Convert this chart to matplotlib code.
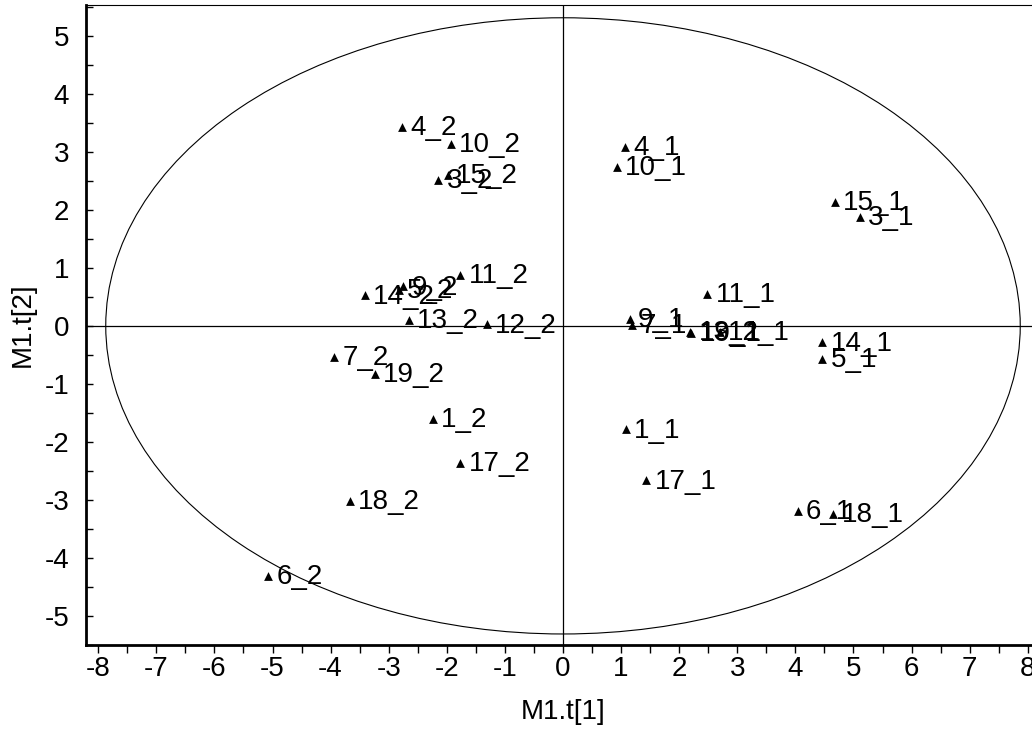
import numpy as np
import matplotlib
matplotlib.use("Agg")
import matplotlib.pyplot as plt
from matplotlib.patches import Ellipse
from matplotlib.ticker import MultipleLocator

plt.rcParams['font.family'] = ['Liberation Sans', 'DejaVu Sans']
plt.rcParams['axes.unicode_minus'] = False

labels = ["4_2", "10_2", "3_2", "15_2", "11_2", "14_2", "5_2", "9_2", "13_2", "12_2",
          "7_2", "19_2", "1_2", "17_2", "18_2", "6_2",
          "4_1", "10_1", "15_1", "3_1", "11_1", "9_1", "7_1", "13_1", "19_1", "12_1",
          "14_1", "5_1", "1_1", "17_1", "6_1", "18_1"]
t1 = [-2.77, -1.93, -2.15, -1.98, -1.77, -3.41, -2.83, -2.75, -2.65, -1.31,
      -3.94, -3.24, -2.24, -1.77, -3.67, -5.08,
      1.07, 0.93, 4.68, 5.11, 2.48, 1.15, 1.19, 2.19, 2.21, 2.70,
      4.46, 4.46, 1.08, 1.43, 4.04, 4.65]
t2 = [3.43, 3.14, 2.52, 2.60, 0.88, 0.53, 0.62, 0.68, 0.10, 0.03,
      -0.53, -0.83, -1.60, -2.36, -3.02, -4.31,
      3.09, 2.74, 2.14, 1.88, 0.55, 0.12, 0.02, -0.10, -0.12, -0.10,
      -0.28, -0.57, -1.78, -2.66, -3.19, -3.24]
ellipse_axes = [7.87, 5.31]
xticks = list(range(-8, 9))
yticks = list(range(-5, 6))

fig = plt.figure(figsize=(10.32, 7.42), dpi=100)
ax = fig.add_axes([86/1032, (742-645)/742, 954/1032, 640/742])
ax.set_xlim(-8.21, 8.21)
ax.set_ylim(-5.5, 5.53)

ax.add_patch(Ellipse((0, 0), 2*ellipse_axes[0], 2*ellipse_axes[1], fill=False,
                     edgecolor='black', linewidth=0.8, zorder=1))
ax.axhline(0, color='black', linewidth=0.9, zorder=1)
ax.axvline(0, color='black', linewidth=0.9, zorder=1)

ax.scatter(t1, t2, marker='^', s=40, color='black', zorder=3, linewidths=0)
for lab, x, y in zip(labels, t1, t2):
    ax.annotate(lab, (x, y), xytext=(6, -1), textcoords='offset points',
                fontsize=20, va='center', ha='left', zorder=4)

ax.set_xticks(xticks)
ax.set_yticks(yticks)
ax.xaxis.set_minor_locator(MultipleLocator(0.5))
ax.yaxis.set_minor_locator(MultipleLocator(0.5))
ax.tick_params(axis='x', which='both', direction='out', length=6, width=1, labelsize=20, pad=2)
ax.tick_params(axis='y', which='both', direction='in', length=5, width=1, labelsize=20, pad=12)
ax.tick_params(top=False, right=False)

for s in ['left', 'bottom']:
    ax.spines[s].set_linewidth(2)
for s in ['top', 'right']:
    ax.spines[s].set_linewidth(0.8)

ax.set_xlabel("M1.t[1]", fontsize=20, labelpad=12)
ax.set_ylabel("M1.t[2]", fontsize=20, labelpad=6)

fig.savefig("out.png", dpi=100)
